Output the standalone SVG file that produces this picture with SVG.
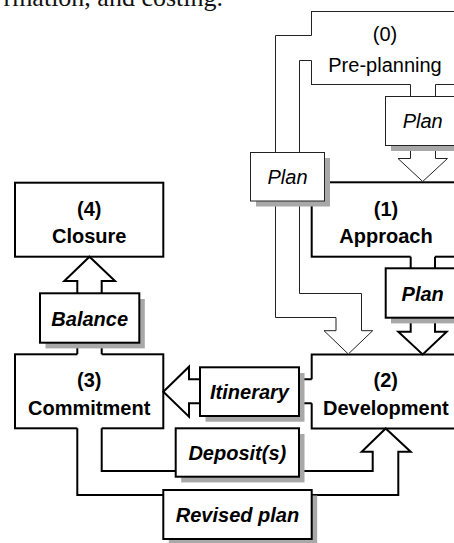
<svg xmlns="http://www.w3.org/2000/svg" width="454" height="543" viewBox="0 0 454 543">
  <style>
    .thin { fill: #fff; stroke: #222; stroke-width: 1; }
    .thick { fill: #fff; stroke: #000; stroke-width: 2; }
    .line-thin { fill: none; stroke: #222; stroke-width: 1; stroke-linejoin: miter; }
    .line-thick { fill: none; stroke: #000; stroke-width: 2; stroke-linejoin: miter; }
    .cover { fill: #fff; stroke: none; }
    .shadow { fill: #a8a8a8; stroke: none; }
    text { font-family: "Liberation Sans", Arial, sans-serif; font-size: 20px; fill: #000; text-anchor: middle; }
    .b { font-weight: bold; }
    .i { font-style: italic; }
    .page { font-family: "Liberation Serif", "Times New Roman", serif; font-size: 26px; text-anchor: end; fill: #111; }
  </style>
  <rect width="454" height="543" fill="#fff"/>

  <text class="page" x="223" y="6">rmation, and costing.</text>

  <g id="preplanning">
    <rect class="thin" x="311.5" y="11.5" width="150" height="73"/>
    <text x="385" y="41">(0)</text>
    <text x="385" y="71.5">Pre-planning</text>
  </g>
  <g id="approach">
    <rect class="thick" x="311.7" y="182.3" width="150" height="74.4"/>
    <text class="b" x="386" y="215.5">(1)</text>
    <text class="b" x="386" y="243">Approach</text>
  </g>
  <g id="closure">
    <rect class="thick" x="15" y="182.7" width="148.3" height="74"/>
    <text class="b" x="89.2" y="215.5">(4)</text>
    <text class="b" x="89.2" y="243">Closure</text>
  </g>
  <g id="development">
    <rect class="thick" x="311.7" y="354.5" width="150" height="74"/>
    <text class="b" x="385.8" y="387">(2)</text>
    <text class="b" x="385.8" y="415">Development</text>
  </g>
  <g id="commitment">
    <rect class="thick" x="15" y="354.3" width="148.3" height="74"/>
    <text class="b" x="89.2" y="387">(3)</text>
    <text class="b" x="89.2" y="415">Commitment</text>
  </g>

  <g id="connectors">
    <!-- Pre-planning -> Plan -> Development -->
    <polygon class="cover" points="313,35.5 275.5,35.5 275.5,317.5 336,317.5 336,330.7 324,330.7 348.3,354 372.7,330.7 361.5,330.7 361.5,293.5 299.5,293.5 299.5,60.5 313,60.5"/>
    <polyline class="line-thin" points="311.5,35.5 275.5,35.5 275.5,317.5 336,317.5 336,330.7 324,330.7 348.3,354 372.7,330.7 361.5,330.7 361.5,293.5 299.5,293.5 299.5,60.5 311.5,60.5"/>
    <!-- Pre-planning -> Plan -> Approach -->
    <polygon class="cover" points="410.5,83 410.5,158.5 398,158.5 422.7,181.5 447.5,158.5 435.5,158.5 435.5,83"/>
    <polyline class="line-thin" points="410.5,84.5 410.5,158.5 398,158.5 422.7,181.5 447.5,158.5 435.5,158.5 435.5,84.5"/>
    <!-- Approach -> Plan -> Development -->
    <polygon class="cover" points="410.7,254.5 410.7,331.7 398.3,331.7 422.7,354.5 446.7,331.7 435,331.7 435,254.5"/>
    <polyline class="line-thick" points="410.7,256.7 410.7,331.7 398.3,331.7 422.7,354.5 446.7,331.7 435,331.7 435,256.7"/>
    <!-- Development -> Itinerary -> Commitment -->
    <polygon class="cover" points="314,379.3 189,379.3 189,366.7 163.3,391.7 189,416.7 189,403.3 314,403.3"/>
    <polyline class="line-thick" points="311.7,379.3 189,379.3 189,366.7 163.3,391.7 189,416.7 189,403.3 311.7,403.3"/>
    <!-- Commitment -> Balance -> Closure -->
    <polygon class="cover" points="77.3,356.5 77.3,281 64.3,281 89.5,256.7 115,281 101.7,281 101.7,356.5"/>
    <polyline class="line-thick" points="77.3,354.3 77.3,281 64.3,281 89.5,256.7 115,281 101.7,281 101.7,354.3"/>
    <!-- Commitment -> Deposit(s) / Revised plan -> Development -->
    <polygon class="cover" points="77.3,426 77.3,495 398.3,495 398.3,451.7 410.7,451.7 385.7,428.5 361.7,451.7 372.7,451.7 372.7,471 101.7,471 101.7,426"/>
    <polyline class="line-thick" points="77.3,428.3 77.3,495 398.3,495 398.3,451.7 410.7,451.7 385.7,428.5 361.7,451.7 372.7,451.7 372.7,471 101.7,471 101.7,428.3"/>
  </g>

  <g id="label-plan-top">
    <rect class="shadow" x="391" y="102" width="74" height="49"/>
    <rect class="thin" x="385.5" y="96.5" width="74" height="49"/>
    <text class="i" x="422.7" y="128">Plan</text>
  </g>
  <g id="label-plan-left">
    <rect class="shadow" x="256" y="158" width="74" height="48.5"/>
    <rect class="thin" x="250.5" y="152.5" width="74" height="48.5"/>
    <text class="i" x="287.5" y="183.5">Plan</text>
  </g>
  <g id="label-plan-mid">
    <rect class="shadow" x="391" y="274" width="74" height="49.4"/>
    <rect class="thick" x="385.7" y="268.3" width="74" height="49.4"/>
    <text class="b i" x="422.7" y="300.5">Plan</text>
  </g>
  <g id="label-balance">
    <rect class="shadow" x="45.5" y="299" width="99.3" height="49.4"/>
    <rect class="thick" x="40" y="293.3" width="99.3" height="49.4"/>
    <text class="b i" x="89.7" y="325.5">Balance</text>
  </g>
  <g id="label-itinerary">
    <rect class="shadow" x="205.5" y="373" width="99" height="48.7"/>
    <rect class="thick" x="200" y="367.3" width="99" height="48.7"/>
    <text class="b i" x="249.5" y="399">Itinerary</text>
  </g>
  <g id="label-deposits">
    <rect class="shadow" x="181.2" y="434" width="123.3" height="48.4"/>
    <rect class="thick" x="175.7" y="428.3" width="123.3" height="48.4"/>
    <text class="b i" x="237.3" y="460">Deposit(s)</text>
  </g>
  <g id="label-revised">
    <rect class="shadow" x="168.8" y="495.5" width="148.4" height="49"/>
    <rect class="thick" x="163.3" y="490" width="148.4" height="49"/>
    <text class="b i" x="237.5" y="521.5">Revised plan</text>
  </g>
</svg>
